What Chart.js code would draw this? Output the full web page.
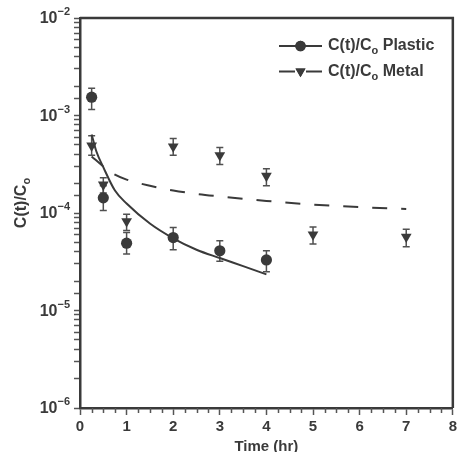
<!DOCTYPE html>
<html>
<head>
<meta charset="utf-8">
<script src="https://cdn.jsdelivr.net/npm/chart.js@4.4.0/dist/chart.umd.min.js"></script>
<style>
  html, body { margin: 0; padding: 0; background: #fff; }
  canvas { display: block; }
</style>
</head>
<body>
<canvas id="c" width="460" height="452"></canvas>
<script>
// Measured concentrations (mean with lower / upper error limits)
const plasticHours = [0.25, 0.5, 1, 2, 3, 4];
const plasticMean  = [1.54e-3, 1.43e-4, 4.9e-5, 5.6e-5, 4.1e-5, 3.3e-5];
const plasticLow   = [1.15e-3, 1.06e-4, 3.8e-5, 4.2e-5, 3.2e-5, 2.5e-5];
const plasticHigh  = [1.9e-3, 1.9e-4, 6.3e-5, 7.1e-5, 5.2e-5, 4.1e-5];

const metalHours = [0.25, 0.5, 1, 2, 3, 4, 5, 7];
const metalMean  = [4.9e-4, 1.95e-4, 8.2e-5, 4.8e-4, 3.9e-4, 2.4e-4, 6.0e-5, 5.7e-5];
const metalLow   = [3.9e-4, 1.6e-4, 6.6e-5, 3.9e-4, 3.15e-4, 1.9e-4, 4.8e-5, 4.5e-5];
const metalHigh  = [6.2e-4, 2.3e-4, 9.7e-5, 5.8e-4, 4.7e-4, 2.85e-4, 7.2e-5, 6.8e-5];

// Fitted curves
const fitPlasticHours = [0.25, 0.35, 0.5, 0.75, 1, 1.5, 2, 2.5, 3, 3.5, 4];
const fitPlastic      = [6.4e-4, 4.3e-4, 2.95e-4, 1.7e-4, 1.25e-4, 7.8e-5, 5.5e-5, 4.2e-5, 3.45e-5, 2.85e-5, 2.35e-5];
const fitMetalHours   = [0.25, 0.5, 0.75, 1, 1.5, 2, 2.5, 3, 4, 5, 6, 7];
const fitMetal        = [3.8e-4, 3.0e-4, 2.47e-4, 2.2e-4, 1.9e-4, 1.7e-4, 1.57e-4, 1.48e-4, 1.33e-4, 1.22e-4, 1.15e-4, 1.1e-4];

// Axis ticks
const xTickValues = [0, 1, 2, 3, 4, 5, 6, 7, 8];
const yExponents  = [-2, -3, -4, -5, -6];

const INK = '#3a3a3a';
const FONT = '"Liberation Sans", Arial, Helvetica, sans-serif';

const pts = (xs, ys) => xs.map((x, i) => ({ x, y: ys[i] }));

const errorSeries = [
  { hours: plasticHours, low: plasticLow, high: plasticHigh },
  { hours: metalHours, low: metalLow, high: metalHigh }
];

function drawRich(ctx, parts, x, y) {
  // parts: [{text, size, dy}] drawn left to right from x
  let cx = x;
  parts.forEach(p => {
    ctx.font = 'bold ' + p.size + 'px ' + FONT;
    ctx.fillText(p.text, cx, y + (p.dy || 0));
    cx += ctx.measureText(p.text).width;
  });
  return cx;
}
function richWidth(ctx, parts) {
  let w = 0;
  parts.forEach(p => { ctx.font = 'bold ' + p.size + 'px ' + FONT; w += ctx.measureText(p.text).width; });
  return w;
}

const decor = {
  id: 'decor',
  beforeDatasetsDraw(chart) {
    const ctx = chart.ctx, xs = chart.scales.x, ys = chart.scales.y;
    ctx.save();
    ctx.strokeStyle = '#505050';
    ctx.lineWidth = 1.5;
    errorSeries.forEach(s => {
      s.hours.forEach((h, i) => {
        const px = xs.getPixelForValue(h);
        const y1 = ys.getPixelForValue(s.low[i]);
        const y2 = ys.getPixelForValue(s.high[i]);
        ctx.beginPath();
        ctx.moveTo(px, y1); ctx.lineTo(px, y2);
        ctx.moveTo(px - 3.5, y1); ctx.lineTo(px + 3.5, y1);
        ctx.moveTo(px - 3.5, y2); ctx.lineTo(px + 3.5, y2);
        ctx.stroke();
      });
    });
    ctx.restore();
  },
  afterDraw(chart) {
    const ctx = chart.ctx, a = chart.chartArea, xs = chart.scales.x, ys = chart.scales.y;
    ctx.save();

    // frame: top and right edges
    ctx.strokeStyle = INK;
    ctx.lineWidth = 2.5;
    ctx.beginPath();
    ctx.moveTo(a.left, a.top); ctx.lineTo(a.right, a.top); ctx.lineTo(a.right, a.bottom);
    ctx.stroke();

    // minor ticks on the time axis every quarter hour
    ctx.strokeStyle = '#555';
    ctx.lineWidth = 1.5;
    ctx.beginPath();
    for (let h = 0; h < 8; h++) {
      [0.25, 0.5, 0.75].forEach(f => {
        const px = Math.round(xs.getPixelForValue(h + f)) + 0.5;
        ctx.moveTo(px, a.bottom); ctx.lineTo(px, a.bottom + 5);
      });
    }
    ctx.stroke();

    // y tick labels as powers of ten
    ctx.fillStyle = INK;
    ctx.textBaseline = 'middle';
    yExponents.forEach(e => {
      const py = ys.getPixelForValue(Math.pow(10, e));
      const parts = [{ text: '10', size: 16 }, { text: '\u2212' + Math.abs(e), size: 11, dy: -7 }];
      const w = richWidth(ctx, parts);
      drawRich(ctx, parts, a.left - 10 - w, py + 1);
    });

    // y axis title, rotated
    ctx.save();
    const titleParts = [{ text: 'C(t)/C', size: 16 }, { text: 'o', size: 11, dy: 5 }];
    const tw = richWidth(ctx, titleParts);
    ctx.translate(22, (a.top + a.bottom) / 2 - 10);
    ctx.rotate(-Math.PI / 2);
    drawRich(ctx, titleParts, -tw / 2, 0);
    ctx.restore();

    // x axis title
    ctx.font = 'bold 15px ' + FONT;
    ctx.textAlign = 'center';
    ctx.textBaseline = 'alphabetic';
    ctx.fillText('Time (hr)', (a.left + a.right) / 2, 451);
    ctx.textAlign = 'left';

    // legend
    const lx0 = 279, lx1 = 322, mx = 300.5, tx = 328;
    const rows = [
      { y: 46, label: 'Plastic', dashed: false, style: 'circle' },
      { y: 71.5, label: 'Metal', dashed: true, style: 'triangle' }
    ];
    rows.forEach(r => {
      ctx.strokeStyle = INK;
      ctx.lineWidth = 2;
      ctx.beginPath();
      if (r.dashed) {
        ctx.moveTo(lx0, r.y); ctx.lineTo(295, r.y);
        ctx.moveTo(306, r.y); ctx.lineTo(lx1, r.y);
      } else {
        ctx.moveTo(lx0, r.y); ctx.lineTo(lx1, r.y);
      }
      ctx.stroke();
      Chart.helpers.drawPoint(ctx, {
        pointStyle: r.style, radius: r.style === 'circle' ? 5.2 : 5.8,
        rotation: r.style === 'triangle' ? 180 : 0, borderWidth: 0
      }, mx, r.y);
      ctx.fillStyle = INK;
      ctx.fill();
      ctx.fillStyle = INK;
      ctx.textBaseline = 'middle';
      drawRich(ctx, [{ text: 'C(t)/C', size: 16 }, { text: 'o', size: 11, dy: 5 }, { text: ' ' + r.label, size: 16 }], tx, r.y);
    });

    ctx.restore();
  }
};

new Chart(document.getElementById('c'), {
  type: 'scatter',
  data: {
    datasets: [
      {
        label: 'Plastic fit',
        data: pts(fitPlasticHours, fitPlastic),
        showLine: true, pointRadius: 0, borderColor: INK, borderWidth: 2,
        cubicInterpolationMode: 'monotone', order: 3
      },
      {
        label: 'Metal fit',
        data: pts(fitMetalHours, fitMetal),
        showLine: true, pointRadius: 0, borderColor: INK, borderWidth: 2,
        borderDash: [15, 14], cubicInterpolationMode: 'monotone', order: 3
      },
      {
        label: 'C(t)/Co Plastic',
        data: pts(plasticHours, plasticMean),
        pointStyle: 'circle', pointRadius: 5.6, backgroundColor: INK, borderColor: INK,
        borderWidth: 0, order: 1
      },
      {
        label: 'C(t)/Co Metal',
        data: pts(metalHours, metalMean),
        pointStyle: 'triangle', pointRotation: 180, pointRadius: 6.2,
        backgroundColor: INK, borderColor: INK, borderWidth: 0, order: 2
      }
    ]
  },
  options: {
    responsive: false,
    animation: false,
    events: [],
    layout: { padding: { top: 18, right: 5, left: 0, bottom: 0 } },
    plugins: { legend: { display: false }, tooltip: { enabled: false } },
    scales: {
      x: {
        type: 'linear', min: 0, max: 8,
        afterBuildTicks: s => { s.ticks = xTickValues.map(v => ({ value: v })); },
        afterFit: s => { s.height = 44; },
        ticks: { color: INK, font: { family: FONT, size: 15, weight: 'bold' }, padding: 3, maxRotation: 0 },
        grid: { drawOnChartArea: false, drawTicks: true, tickLength: 7, tickColor: '#555', tickWidth: 1.5 },
        border: { display: true, color: INK, width: 2.5 }
      },
      y: {
        type: 'logarithmic', min: 1e-6, max: 1e-2,
        afterFit: s => { s.width = 80; },
        ticks: { callback: () => '', autoSkip: false },
        grid: { drawOnChartArea: false, drawTicks: true, tickLength: 6, tickColor: '#555', tickWidth: 1.5 },
        border: { display: true, color: INK, width: 2.5 }
      }
    }
  },
  plugins: [decor]
});
</script>
</body>
</html>
